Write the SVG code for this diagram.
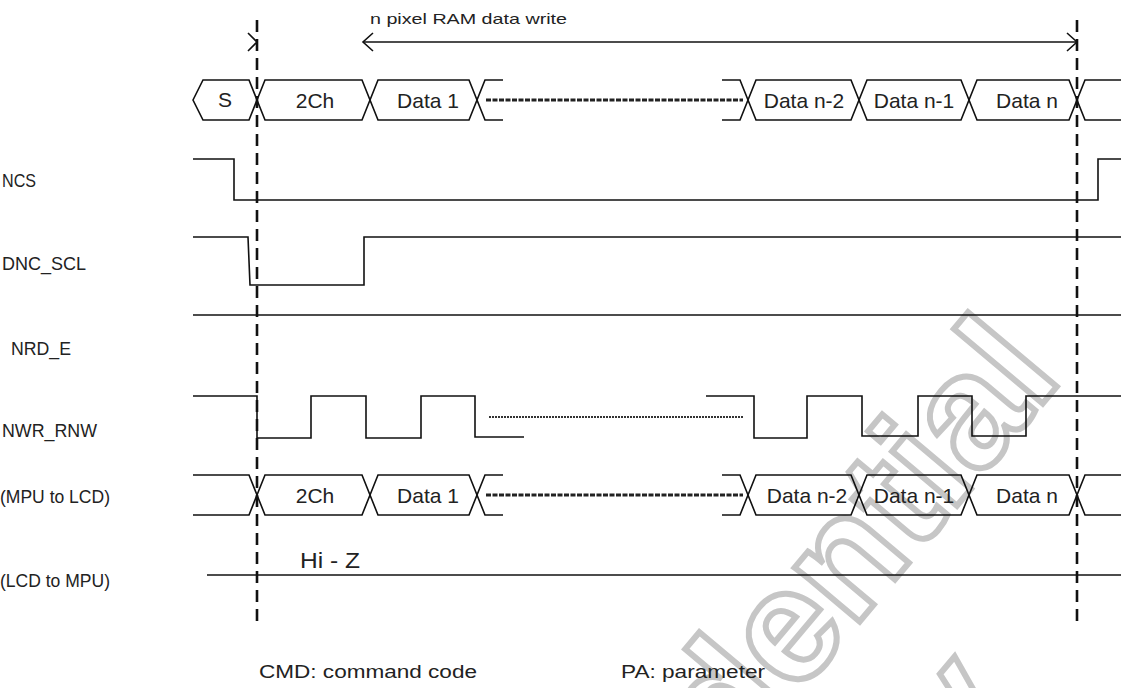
<svg xmlns="http://www.w3.org/2000/svg" width="1121" height="688" viewBox="0 0 1121 688">
<style>
.w{fill:none;stroke:#111;stroke-width:1.6;stroke-linejoin:miter}
.d{fill:none;stroke:#111;stroke-width:2.6;stroke-dasharray:12 7}
.bd{fill:none;stroke:#222;stroke-width:3;stroke-dasharray:5 1.5}
.sd{fill:none;stroke:#333;stroke-width:2;stroke-dasharray:2 1}
.t{font-family:"Liberation Sans",Arial,sans-serif;fill:#222}
.c{font-size:21px;text-anchor:middle}
.l{font-size:17.5px}
.wm{font-family:"Liberation Sans",Arial,sans-serif;font-weight:bold;font-size:160px;fill:none;stroke:#c6c6c6;stroke-width:6}
</style>
<rect width="1121" height="688" fill="#fff"/>
<g id="watermark">
<text class="wm" transform="translate(1064,378) rotate(-50)" text-anchor="end">Confidential</text>
<text class="wm" transform="translate(1020,710) rotate(-50)" text-anchor="end">y</text>
</g>
<g id="labels">
<text class="t l" x="2" y="187" textLength="34" lengthAdjust="spacingAndGlyphs">NCS</text>
<text class="t l" x="2" y="270" textLength="84" lengthAdjust="spacingAndGlyphs">DNC_SCL</text>
<text class="t l" x="11" y="355" textLength="60" lengthAdjust="spacingAndGlyphs">NRD_E</text>
<text class="t l" x="2" y="437" textLength="95" lengthAdjust="spacingAndGlyphs">NWR_RNW</text>
<text class="t l" x="0" y="503" textLength="110" lengthAdjust="spacingAndGlyphs">(MPU to LCD)</text>
<text class="t l" x="0" y="587" textLength="110" lengthAdjust="spacingAndGlyphs">(LCD to MPU)</text>
</g>
<g id="top-bus">
<polygon class="w" points="193,100 203,80 249,80 257,100 249,120 203,120"/>
<polygon class="w" points="257,100 265,80 362,80 370,100 362,120 265,120"/>
<polygon class="w" points="370,100 378,80 469,80 477,100 469,120 378,120"/>
<polyline class="w" points="503,80 485,80 477,100 485,120 503,120"/>
<polyline class="w" points="722,80 740,80 748,100 740,120 722,120"/>
<polygon class="w" points="748,100 756,80 851,80 859,100 851,120 756,120"/>
<polygon class="w" points="859,100 867,80 961,80 969,100 961,120 867,120"/>
<polygon class="w" points="969,100 977,80 1069,80 1077,100 1069,120 977,120"/>
<polyline class="w" points="1121,80 1085,80 1077,100 1085,120 1121,120"/>
<line class="bd" x1="486" y1="100" x2="743" y2="100"/>
<text class="t c" x="225" y="107">S</text>
<text class="t c" x="315" y="108">2Ch</text>
<text class="t c" x="428" y="108">Data 1</text>
<text class="t c" x="804" y="108">Data n-2</text>
<text class="t c" x="914" y="108">Data n-1</text>
<text class="t c" x="1027" y="108">Data n</text>
</g>
<g id="ncs"><polyline class="w" points="193,159 234,159 234,200 1098,200 1098,159 1121,159"/></g>
<g id="dnc"><polyline class="w" points="193,237 248,237 250,285 364,285 364,237 1121,237"/></g>
<g id="nrd"><line class="w" x1="193" y1="315" x2="1121" y2="315"/></g>
<g id="nwr">
<polyline class="w" points="193,396 257,396 257,438 311,438 311,396 366,396 366,438 421,438 421,396 475,396 475,437 524,437"/>
<line class="sd" x1="489" y1="417" x2="743" y2="417"/>
<polyline class="w" points="706,396 754,396 754,438 807,438 807,396 862,396 862,436 918,436 918,396 972,396 972,436 1026,436 1026,396 1121,396"/>
</g>
<g id="mpu-bus">
<polyline class="w" points="193,475 249,475 257,495 249,515 193,515"/>
<polygon class="w" points="257,495 265,475 362,475 370,495 362,515 265,515"/>
<polygon class="w" points="370,495 378,475 469,475 477,495 469,515 378,515"/>
<polyline class="w" points="503,475 485,475 477,495 485,515 503,515"/>
<polyline class="w" points="722,475 740,475 748,495 740,515 722,515"/>
<polygon class="w" points="748,495 756,475 851,475 859,495 851,515 756,515"/>
<polygon class="w" points="859,495 867,475 961,475 969,495 961,515 867,515"/>
<polygon class="w" points="969,495 977,475 1069,475 1077,495 1069,515 977,515"/>
<polyline class="w" points="1121,475 1085,475 1077,495 1085,515 1121,515"/>
<line class="bd" x1="486" y1="495" x2="743" y2="495"/>
<text class="t c" x="315" y="503">2Ch</text>
<text class="t c" x="428" y="503">Data 1</text>
<text class="t c" x="807" y="503">Data n-2</text>
<text class="t c" x="914" y="503">Data n-1</text>
<text class="t c" x="1027" y="503">Data n</text>
</g>
<g id="hiz">
<line class="w" x1="207" y1="575" x2="1121" y2="575"/>
<text class="t" x="300" y="568" font-size="22" textLength="60" lengthAdjust="spacingAndGlyphs">Hi - Z</text>
</g>
<g id="connectors">
<line class="d" x1="257" y1="20" x2="257" y2="627"/>
<line class="d" x1="1077" y1="20" x2="1077" y2="627"/>
<line class="w" x1="363" y1="42" x2="1077" y2="42"/>
<polyline class="w" points="373,33 363,42 373,51"/>
<polyline class="w" points="1067,33 1077,42 1067,51"/>
<polyline class="w" points="248,33 257,42 248,51"/>
</g>
<text class="t" x="370" y="24" font-size="15" textLength="197" lengthAdjust="spacingAndGlyphs">n pixel RAM data write</text>
<text class="t" x="259" y="678" font-size="17.5" textLength="218" lengthAdjust="spacingAndGlyphs">CMD:  command code</text>
<text class="t" x="621" y="678" font-size="17.5" textLength="144" lengthAdjust="spacingAndGlyphs">PA: parameter</text>
</svg>
